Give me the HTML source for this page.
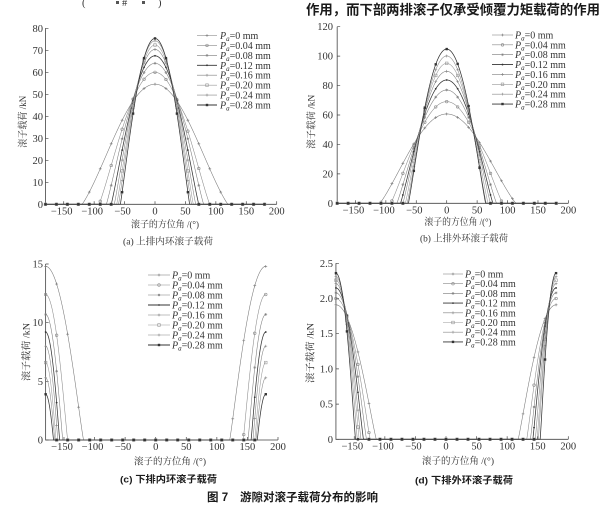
<!DOCTYPE html>
<html><head><meta charset="utf-8">
<style>
html,body{margin:0;padding:0;background:#fff;}
svg{display:block;}
.t{font-family:"Liberation Serif","Noto Serif CJK SC",serif;font-size:10.5px;fill:#333;}
.cj{font-family:"Liberation Serif","Noto Serif CJK SC",serif;font-size:9.5px;fill:#333;}
.lg{font-family:"Liberation Serif",serif;font-size:10px;fill:#333;}
.bd{font-family:"Liberation Sans","Noto Sans CJK SC",sans-serif;font-size:9.5px;font-weight:bold;fill:#1a1a1a;}
.hd{font-family:"Liberation Sans","Noto Sans CJK SC",sans-serif;font-weight:bold;fill:#1a1a1a;}
</style></head><body>
<svg id="s" width="602" height="505" viewBox="0 0 602 505" xmlns="http://www.w3.org/2000/svg">
<rect width="602" height="505" fill="#fff"/>
<!-- top fragments -->
<text x="82" y="6" class="t" font-size="12">(</text>
<rect x="116" y="1" width="3" height="3" fill="#555"/>
<text x="122" y="6" class="t" font-size="8">#</text>
<rect x="142" y="1" width="3" height="3" fill="#555"/>
<text x="158" y="6" class="t" font-size="12">)</text>
<text x="306" y="14.5" class="hd" font-size="13.5" textLength="294" lengthAdjust="spacingAndGlyphs">作用，而下部两排滚子仅承受倾覆力矩载荷的作用</text>

<!-- Chart A labels -->
<g class="t" text-anchor="end">
<text x="43" y="207.8">0</text><text x="43" y="185.8">10</text><text x="43" y="163.8">20</text><text x="43" y="141.8">30</text><text x="43" y="119.8">40</text><text x="43" y="97.8">50</text><text x="43" y="75.8">60</text><text x="43" y="53.8">70</text><text x="43" y="31.8">80</text>
</g>
<g class="t" text-anchor="middle">
<text x="61.7" y="214.3">−150</text><text x="92.2" y="214.3">−100</text><text x="122.6" y="214.3">−50</text><text x="155" y="214.3">0</text><text x="185.4" y="214.3">50</text><text x="215.9" y="214.3">100</text><text x="246.3" y="214.3">150</text><text x="276.7" y="214.3">200</text>
</g>
<text class="cj" x="165" y="227.5" text-anchor="middle" textLength="68" lengthAdjust="spacingAndGlyphs">滚子的方位角 /(°)</text>
<text class="cj" x="123" y="244.5" textLength="90" lengthAdjust="spacingAndGlyphs">(a) 上排内环滚子载荷</text>
<text class="cj" x="26" y="121.7" text-anchor="middle" transform="rotate(-90 26 121.7)" textLength="52" lengthAdjust="spacingAndGlyphs">滚子载荷 /kN</text>

<!-- Chart B labels -->
<g class="t" text-anchor="end">
<text x="333" y="206.8">0</text><text x="333" y="177.4">20</text><text x="333" y="147.9">40</text><text x="333" y="118.5">60</text><text x="333" y="89.1">80</text><text x="333" y="59.6">100</text><text x="333" y="30.2">120</text>
</g>
<g class="t" text-anchor="middle">
<text x="353.4" y="213.3">−150</text><text x="383.9" y="213.3">−100</text><text x="414.3" y="213.3">−50</text><text x="446.7" y="213.3">0</text><text x="477.1" y="213.3">50</text><text x="507.6" y="213.3">100</text><text x="538" y="213.3">150</text><text x="568.4" y="213.3">200</text>
</g>
<text class="cj" x="458" y="225" text-anchor="middle" textLength="67" lengthAdjust="spacingAndGlyphs">滚子的方位角 /(°)</text>
<text class="cj" x="420" y="241.5" textLength="88" lengthAdjust="spacingAndGlyphs">(b) 上排外环滚子载荷</text>
<text class="cj" x="314.5" y="121.7" text-anchor="middle" transform="rotate(-90 314.5 121.7)" textLength="54" lengthAdjust="spacingAndGlyphs">滚子载荷 /kN</text>

<!-- Chart C labels -->
<g class="t" text-anchor="end">
<text x="43" y="443.5">0</text><text x="43" y="384.8">5</text><text x="43" y="326.2">10</text><text x="43" y="267.5">15</text>
</g>
<g class="t" text-anchor="middle">
<text x="62" y="450">−150</text><text x="92.5" y="450">−100</text><text x="123.1" y="450">−50</text><text x="155.7" y="450">0</text><text x="186.3" y="450">50</text><text x="216.9" y="450">100</text><text x="247.4" y="450">150</text><text x="278" y="450">200</text>
</g>
<text class="cj" x="170" y="464.5" text-anchor="middle" textLength="72" lengthAdjust="spacingAndGlyphs">滚子的方位角 /(°)</text>
<text class="bd" x="120" y="482.5" textLength="97" lengthAdjust="spacingAndGlyphs">(c) 下排内环滚子载荷</text>
<text class="cj" x="29.5" y="352" text-anchor="middle" transform="rotate(-90 29.5 352)" textLength="58" lengthAdjust="spacingAndGlyphs">滚子载荷 /kN</text>

<!-- Chart D labels -->
<g class="t" text-anchor="end">
<text x="333" y="442.8">0</text><text x="333" y="407.6">0.5</text><text x="333" y="372.4">1.0</text><text x="333" y="337.2">1.5</text><text x="333" y="302">2.0</text><text x="333" y="266.8">2.5</text>
</g>
<g class="t" text-anchor="middle">
<text x="352.3" y="449.3">−150</text><text x="382.9" y="449.3">−100</text><text x="413.4" y="449.3">−50</text><text x="446" y="449.3">0</text><text x="476.6" y="449.3">50</text><text x="507.2" y="449.3">100</text><text x="537.7" y="449.3">150</text><text x="568.3" y="449.3">200</text>
</g>
<text class="cj" x="458" y="464" text-anchor="middle" textLength="72" lengthAdjust="spacingAndGlyphs">滚子的方位角 /(°)</text>
<text class="bd" x="415" y="483.5" textLength="98" lengthAdjust="spacingAndGlyphs">(d) 下排外环滚子载荷</text>
<text class="cj" x="313.5" y="353" text-anchor="middle" transform="rotate(-90 313.5 353)" textLength="60" lengthAdjust="spacingAndGlyphs">滚子载荷 /kN</text>

<!-- figure title -->
<text class="hd" x="207" y="501" font-size="11.5">图 7</text>
<text class="hd" x="240" y="501" font-size="11.5" textLength="138" lengthAdjust="spacingAndGlyphs">游隙对滚子载荷分布的影响</text>

<!-- legends -->
<g class="lg">
<text x="220" y="39"><tspan font-style="italic">P</tspan><tspan font-style="italic" font-size="7" dy="2">a</tspan><tspan dy="-2">=0 mm</tspan></text>
<text x="220" y="48.9"><tspan font-style="italic">P</tspan><tspan font-style="italic" font-size="7" dy="2">a</tspan><tspan dy="-2">=0.04 mm</tspan></text>
<text x="220" y="58.9"><tspan font-style="italic">P</tspan><tspan font-style="italic" font-size="7" dy="2">a</tspan><tspan dy="-2">=0.08 mm</tspan></text>
<text x="220" y="68.8"><tspan font-style="italic">P</tspan><tspan font-style="italic" font-size="7" dy="2">a</tspan><tspan dy="-2">=0.12 mm</tspan></text>
<text x="220" y="78.7"><tspan font-style="italic">P</tspan><tspan font-style="italic" font-size="7" dy="2">a</tspan><tspan dy="-2">=0.16 mm</tspan></text>
<text x="220" y="88.7"><tspan font-style="italic">P</tspan><tspan font-style="italic" font-size="7" dy="2">a</tspan><tspan dy="-2">=0.20 mm</tspan></text>
<text x="220" y="98.6"><tspan font-style="italic">P</tspan><tspan font-style="italic" font-size="7" dy="2">a</tspan><tspan dy="-2">=0.24 mm</tspan></text>
<text x="220" y="108.5"><tspan font-style="italic">P</tspan><tspan font-style="italic" font-size="7" dy="2">a</tspan><tspan dy="-2">=0.28 mm</tspan></text>

<text x="515" y="38.5"><tspan font-style="italic">P</tspan><tspan font-style="italic" font-size="7" dy="2">a</tspan><tspan dy="-2">=0 mm</tspan></text>
<text x="515" y="48.4"><tspan font-style="italic">P</tspan><tspan font-style="italic" font-size="7" dy="2">a</tspan><tspan dy="-2">=0.04 mm</tspan></text>
<text x="515" y="58.2"><tspan font-style="italic">P</tspan><tspan font-style="italic" font-size="7" dy="2">a</tspan><tspan dy="-2">=0.08 mm</tspan></text>
<text x="515" y="68.1"><tspan font-style="italic">P</tspan><tspan font-style="italic" font-size="7" dy="2">a</tspan><tspan dy="-2">=0.12 mm</tspan></text>
<text x="515" y="77.9"><tspan font-style="italic">P</tspan><tspan font-style="italic" font-size="7" dy="2">a</tspan><tspan dy="-2">=0.16 mm</tspan></text>
<text x="515" y="87.8"><tspan font-style="italic">P</tspan><tspan font-style="italic" font-size="7" dy="2">a</tspan><tspan dy="-2">=0.20 mm</tspan></text>
<text x="515" y="97.7"><tspan font-style="italic">P</tspan><tspan font-style="italic" font-size="7" dy="2">a</tspan><tspan dy="-2">=0.24 mm</tspan></text>
<text x="515" y="107.5"><tspan font-style="italic">P</tspan><tspan font-style="italic" font-size="7" dy="2">a</tspan><tspan dy="-2">=0.28 mm</tspan></text>

<text x="172" y="278.5"><tspan font-style="italic">P</tspan><tspan font-style="italic" font-size="7" dy="2">a</tspan><tspan dy="-2">=0 mm</tspan></text>
<text x="172" y="288.5"><tspan font-style="italic">P</tspan><tspan font-style="italic" font-size="7" dy="2">a</tspan><tspan dy="-2">=0.04 mm</tspan></text>
<text x="172" y="298.5"><tspan font-style="italic">P</tspan><tspan font-style="italic" font-size="7" dy="2">a</tspan><tspan dy="-2">=0.08 mm</tspan></text>
<text x="172" y="308.5"><tspan font-style="italic">P</tspan><tspan font-style="italic" font-size="7" dy="2">a</tspan><tspan dy="-2">=0.12 mm</tspan></text>
<text x="172" y="318.5"><tspan font-style="italic">P</tspan><tspan font-style="italic" font-size="7" dy="2">a</tspan><tspan dy="-2">=0.16 mm</tspan></text>
<text x="172" y="328.5"><tspan font-style="italic">P</tspan><tspan font-style="italic" font-size="7" dy="2">a</tspan><tspan dy="-2">=0.20 mm</tspan></text>
<text x="172" y="338.5"><tspan font-style="italic">P</tspan><tspan font-style="italic" font-size="7" dy="2">a</tspan><tspan dy="-2">=0.24 mm</tspan></text>
<text x="172" y="348.5"><tspan font-style="italic">P</tspan><tspan font-style="italic" font-size="7" dy="2">a</tspan><tspan dy="-2">=0.28 mm</tspan></text>

<text x="465" y="277.5"><tspan font-style="italic">P</tspan><tspan font-style="italic" font-size="7" dy="2">a</tspan><tspan dy="-2">=0 mm</tspan></text>
<text x="465" y="287.2"><tspan font-style="italic">P</tspan><tspan font-style="italic" font-size="7" dy="2">a</tspan><tspan dy="-2">=0.04 mm</tspan></text>
<text x="465" y="296.9"><tspan font-style="italic">P</tspan><tspan font-style="italic" font-size="7" dy="2">a</tspan><tspan dy="-2">=0.08 mm</tspan></text>
<text x="465" y="306.6"><tspan font-style="italic">P</tspan><tspan font-style="italic" font-size="7" dy="2">a</tspan><tspan dy="-2">=0.12 mm</tspan></text>
<text x="465" y="316.3"><tspan font-style="italic">P</tspan><tspan font-style="italic" font-size="7" dy="2">a</tspan><tspan dy="-2">=0.16 mm</tspan></text>
<text x="465" y="326"><tspan font-style="italic">P</tspan><tspan font-style="italic" font-size="7" dy="2">a</tspan><tspan dy="-2">=0.20 mm</tspan></text>
<text x="465" y="335.7"><tspan font-style="italic">P</tspan><tspan font-style="italic" font-size="7" dy="2">a</tspan><tspan dy="-2">=0.24 mm</tspan></text>
<text x="465" y="345.4"><tspan font-style="italic">P</tspan><tspan font-style="italic" font-size="7" dy="2">a</tspan><tspan dy="-2">=0.28 mm</tspan></text>
</g>
</svg>
<script>
(function(){
var D=Math.PI/180, NS='http://www.w3.org/2000/svg', svg=document.getElementById('s');
function el(t,a){var e=document.createElementNS(NS,t);for(var k in a)e.setAttribute(k,a[k]);svg.appendChild(e);return e;}
var cols=['#777','#8a8a8a','#7a7a7a','#333','#808080','#999','#888','#333'];
var mt=['plus','circ','star','dot','plus','sq','plus','fsq'];
function marker(x,y,t,c){
 switch(t){
  case 'plus': el('path',{d:'M'+(x-1.4)+' '+y+'h2.8M'+x+' '+(y-1.4)+'v2.8',stroke:c,'stroke-width':0.6,fill:'none'});break;
  case 'circ': el('circle',{cx:x,cy:y,r:1.3,stroke:c,'stroke-width':0.6,fill:'none'});break;
  case 'star': el('path',{d:'M'+(x-1.4)+' '+y+'h2.8M'+x+' '+(y-1.4)+'v2.8M'+(x-1)+' '+(y-1)+'l2 2M'+(x-1)+' '+(y+1)+'l2 -2',stroke:c,'stroke-width':0.5,fill:'none'});break;
  case 'dot': el('circle',{cx:x,cy:y,r:0.9,fill:c});break;
  case 'sq': el('rect',{x:x-1.3,y:y-1.3,width:2.6,height:2.6,stroke:c,'stroke-width':0.6,fill:'none'});break;
  case 'fsq': el('rect',{x:x-1.2,y:y-1.2,width:2.4,height:2.4,fill:c});break;
 }
}
var charts=[
{x0:155,sx:0.6085,y0:204.3,sy:2.2,mid:true,q:[54.6,60,64.1,67.5,70.4,72.4,74.3,75.4],zl:[120,92,80,72,67,63,60,57],zr:[120,90,80,72,67,63,60,57],ymax:80,ys:10,lg:[197,217,35.5,9.93]},
{x0:446.7,sx:0.6085,y0:203.3,sy:1.4717,mid:true,q:[60.7,69.1,77,83.8,89.7,95.1,100.1,104.8],zl:[110,92,82,76,72,68,65,63],zr:[114,92,82,76,72,68,65,64],ymax:120,ys:20,lg:[492,513,35,9.86]},
{x0:155.7,sx:0.6115,y0:440,sy:11.733,mid:false,q:[14.8,12.4,10.7,9.2,8.0,6.6,5.3,3.9],zl:[62,36,28,23,20,17,15,13],zr:[59,37,29,24,21,18,16,14],ymax:15,ys:5,lg:[148,170,275,10]},
{x0:446,sx:0.6115,y0:439.3,sy:70.4,mid:false,q:[1.91,2.0,2.08,2.15,2.21,2.26,2.31,2.36],zl:[66,56,50,45,41,38,35,32],zr:[62,48,42,38,34,31,29,26],ymax:2.5,ys:0.5,lg:[443,463,274,9.7]}
];
function f(c,i,psi){
 var phi=c.mid?Math.abs(psi):180-Math.abs(psi);
 var p0=psi<0?c.zl[i]:c.zr[i];
 var cp=Math.cos(p0*D);
 var r=(Math.cos(phi*D)-cp)/(1-cp);
 return r>0?c.q[i]*Math.pow(r,1.11):0;
}
charts.forEach(function(c){
 var xl=c.x0-180*c.sx, xr=c.x0+200*c.sx, yt=c.y0-c.ymax*c.sy;
 el('path',{d:'M'+xl+' '+yt+'V'+c.y0+'H'+xr,stroke:'#444','stroke-width':0.8,fill:'none'});
 var d='';
 for(var v=0;v<=c.ymax+1e-6;v+=c.ys){var y=c.y0-v*c.sy;d+='M'+xl+' '+y+'h3';}
 for(var a=-150;a<=200;a+=50){var x=c.x0+a*c.sx;d+='M'+x+' '+c.y0+'v-3';}
 el('path',{d:d,stroke:'#444','stroke-width':0.7,fill:'none'});
 for(var i=0;i<8;i++){
  var p='';
  for(var s=-180;s<=180.001;s+=0.5){
   var x=c.x0+s*c.sx, y=c.y0-f(c,i,s)*c.sy;
   p+=(s===-180?'M':'L')+x.toFixed(2)+' '+y.toFixed(2);
  }
  el('path',{d:p,stroke:cols[i],'stroke-width':(i==3||i==7)?0.75:0.55,fill:'none'});
  for(var k=0;k<=20;k++){
   var ang=-180+18*k;
   marker(c.x0+ang*c.sx,c.y0-f(c,i,ang)*c.sy,mt[i],cols[i]);
  }
  var ly=c.lg[2]+i*c.lg[3];
  el('line',{x1:c.lg[0],y1:ly,x2:c.lg[1],y2:ly,stroke:cols[i],'stroke-width':(i==3||i==7)?0.9:0.6});
  marker((c.lg[0]+c.lg[1])/2,ly,mt[i],cols[i]);
 }
});
})();
</script>
</body></html>
